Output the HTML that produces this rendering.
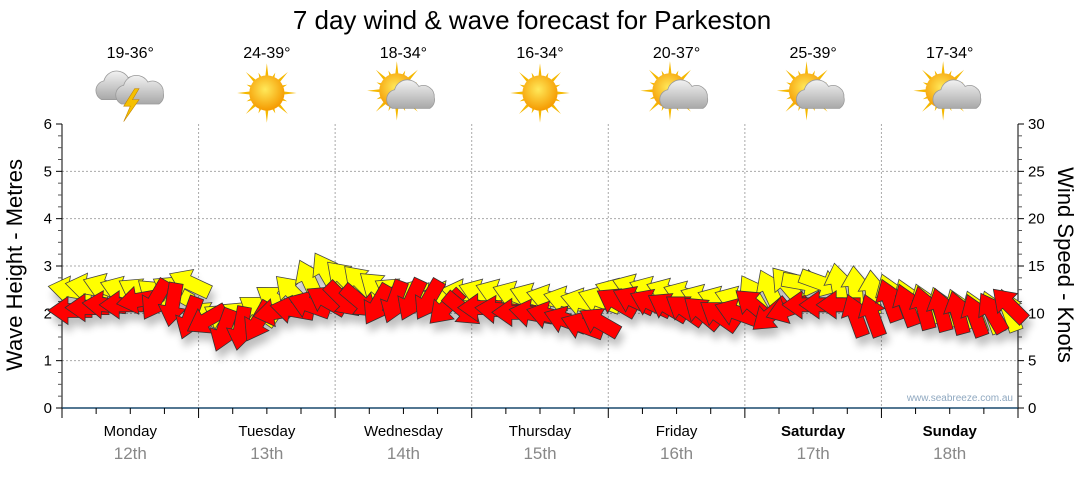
<!DOCTYPE html>
<html><head><meta charset="utf-8"><style>
body{margin:0;background:#fff;width:1080px;height:475px;overflow:hidden;font-family:"Liberation Sans",sans-serif}
</style></head><body>
<svg id="c" width="1080" height="475" xmlns="http://www.w3.org/2000/svg">
<defs>
<filter id="sh" x="-50%" y="-50%" width="200%" height="200%"><feGaussianBlur in="SourceAlpha" stdDeviation="4"/><feOffset dx="3" dy="8"/><feComponentTransfer><feFuncA type="linear" slope="0.25"/></feComponentTransfer><feMerge><feMergeNode/><feMergeNode in="SourceGraphic"/></feMerge></filter>
<radialGradient id="sun" cx="45%" cy="40%" r="60%"><stop offset="0" stop-color="#ffe95a"/><stop offset="1" stop-color="#f59a00"/></radialGradient>
<linearGradient id="cloud" x1="0" y1="0" x2="0" y2="1"><stop offset="0" stop-color="#f2f2f2"/><stop offset="1" stop-color="#a8a8a8"/></linearGradient>
</defs>
<text x="532" y="29" font-size="26" text-anchor="middle" fill="#000">7 day wind &amp; wave forecast for Parkeston</text>
<g id="grid"></g><g id="axes"></g><g id="icons"></g>
<g id="marks" filter="url(#sh)"></g>
<text x="1013" y="401" font-size="10" text-anchor="end" fill="#8fa8c0">www.seabreeze.com.au</text>
<text transform="translate(22,265) rotate(-90)" font-size="22" text-anchor="middle">Wave Height - Metres</text>
<text transform="translate(1058,265) rotate(90)" font-size="22" text-anchor="middle">Wind Speed - Knots</text>
</svg>
<script>
const days=["Monday","Tuesday","Wednesday","Thursday","Friday","Saturday","Sunday"];
const dates=["12th","13th","14th","15th","16th","17th","18th"];
const temps=["19-36°","24-39°","18-34°","16-34°","20-37°","25-39°","17-34°"];
const icons=["storm","sun","partly","sun","partly","partly","partly"];
const waveTicks=[0,1,2,3,4,5,6];
const windTicks=[0,5,10,15,20,25,30];
// every 3 hours, 8 per day
const windKnots=[10.3,10.6,10.9,10.9,11.4,11.4,10.9,9.5, 9.3,8.2,8.4,9.1,10.1,10.4,10.9,11.4, 11.4,11.2,10.9,11.2,11.4,11.4,10.6,10.4, 10.6,10.4,10.1,10.0,9.8,9.3,8.7,9.1, 11.2,11.4,11.1,10.7,10.4,10.1,9.8,10.1, 10.9,9.8,10.4,10.9,10.9,10.9,9.8,9.8, 11.4,10.9,10.6,10.4,10.1,9.8,10.1,10.9];
const windDir=[180,180,185,180,170,120,100,110, 150,110,100,120,170,190,200,210, 45,40,120,110,115,120,135,40, 180,185,180,190,195,200,200,210, 210,205,205,210,215,220,215,200, 220,140,160,180,180,180,250,250, 250,250,255,255,255,250,240,225];
const waveM=[2.49,2.55,2.55,2.49,2.45,2.39,2.49,2.64, 1.95,1.9,1.95,2.07,2.28,2.45,2.70,2.87, 2.75,2.66,2.54,2.45,2.39,2.35,2.39,2.43, 2.43,2.43,2.39,2.35,2.32,2.28,2.24,2.28, 2.45,2.54,2.49,2.45,2.39,2.32,2.28,2.28, 2.39,2.49,2.60,2.64,2.64,2.60,2.54,2.45, 2.39,2.28,2.18,2.11,2.07,2.03,2.03,2.07];
const waveDir=[190,190,200,200,210,220,210,205, 210,210,210,215,215,225,245,240, 225,225,220,210,200,190,190,190, 200,200,200,200,195,195,195,200, 200,200,200,200,200,200,200,200, 240,245,230,10,20,260,265,265, 250,250,250,250,250,250,250,250];

const NS="http://www.w3.org/2000/svg";
const L=62,R=1018,T=124,B=408,DW=(R-L)/7;
const yW=m=>B-(B-T)*m/6, yK=k=>B-(B-T)*k/30, xT=i=>L+(i/8)*DW;
function el(p,tag,a){const e=document.createElementNS(NS,tag);for(const k in a)e.setAttribute(k,a[k]);document.getElementById(p).appendChild(e);return e;}
waveTicks.slice(1,6).forEach(t=>{const g=el('grid','line',{x1:L,x2:R,y1:yW(t),y2:yW(t),stroke:'#aaa','stroke-dasharray':'2,2'});

});
for(let d=1;d<7;d++){const g=el('grid','line',{x1:L+d*DW,x2:L+d*DW,y1:T,y2:B,stroke:'#aaa','stroke-dasharray':'2,2'});

}
el('axes','line',{x1:L,x2:L,y1:T,y2:B,stroke:'#000'});
el('axes','line',{x1:R,x2:R,y1:T,y2:B,stroke:'#000'});
el('axes','line',{x1:L,x2:R,y1:B,y2:B,stroke:'#1a4a6e','stroke-width':1.5});
for(let i=0;i<=24;i++){const y=yW(i/4);const big=i%4==0;
el('axes','line',{x1:L-(big?6:4),x2:L,y1:y,y2:y,stroke:big?'#000':'#555'});
el('axes','line',{x1:R,x2:R+(big?6:4),y1:y,y2:y,stroke:big?'#000':'#555'});}
waveTicks.forEach(t=>{const e=el('axes','text',{x:L-10,y:yW(t)+5,'font-size':15,'text-anchor':'end'});e.textContent=t;

});
windTicks.forEach(t=>{const e=el('axes','text',{x:R+10,y:yK(t)+5,'font-size':15});e.textContent=t;

});
for(let i=0;i<=28;i++){const x=L+i*DW/4;const big=i%4==0;el('axes','line',{x1:x,x2:x,y1:B,y2:B+(big?10:6),stroke:'#000'});}
days.forEach((d,i)=>{const cx=L+(i+0.5)*DW;const we=i>=5;
const a=el('axes','text',{x:cx,y:436,'font-size':15,'text-anchor':'middle','font-weight':we?'bold':'normal'});a.textContent=d;


const b=el('axes','text',{x:cx,y:459,'font-size':17,'text-anchor':'middle',fill:'#888'});b.textContent=dates[i];


const t=el('icons','text',{x:cx,y:58,'font-size':16,'text-anchor':'middle'});t.textContent=temps[i];


const g=el('icons','g',{transform:`translate(${cx},93) scale(1.1)`});


const add=(tag,a)=>{const e=document.createElementNS(NS,tag);for(const k in a)e.setAttribute(k,a[k]);g.appendChild(e);};
const sun=(sx,sy)=>{let p='';for(let k=0;k<16;k++){const an=k*Math.PI/8,r=k%2?20:27;p+=`M${sx+Math.cos(an-0.15)*12},${sy+Math.sin(an-0.15)*12}L${sx+Math.cos(an)*r},${sy+Math.sin(an)*r}L${sx+Math.cos(an+0.15)*12},${sy+Math.sin(an+0.15)*12}Z`;}
add('path',{d:p,fill:'#f5b800'});add('circle',{cx:sx,cy:sy,r:16,fill:'url(#sun)'});};
const cloud=(cx2,cy2,s)=>{add('path',{d:`M${cx2-18*s},${cy2+10*s}a9,9 0 0 1 2,-17a12,12 0 0 1 22,-3a10,10 0 0 1 14,10a9,9 0 0 1 -4,10z`,fill:'url(#cloud)',stroke:'#999','stroke-width':0.7});};
if(icons[i]=='sun')sun(0,0);
else if(icons[i]=='partly'){sun(-6,-2);cloud(8,4,1);}
else{cloud(-8,-4,1);cloud(10,0,1);add('path',{d:'M4,-4L-6,12L0,12L-6,26L8,6L2,6L8,-4Z',fill:'#f5c000',stroke:'#c08000','stroke-width':0.5});}
});
const shape='M22,0L2,-14L2,-7L-22,-7L-22,7L2,7L2,14Z';
waveM.forEach((m,i)=>{const a=el('marks','path',{d:shape,fill:'#ffff00',stroke:'#444','stroke-width':0.8,transform:`translate(${xT(i)+8},${yW(m)}) rotate(${waveDir[i]})`});

});
windKnots.forEach((k,i)=>{const a=el('marks','path',{d:shape,fill:'#ff0000',stroke:'#333','stroke-width':0.8,transform:`translate(${xT(i)+8},${yK(k)}) rotate(${windDir[i]})`});

});
</script>
</body></html>
